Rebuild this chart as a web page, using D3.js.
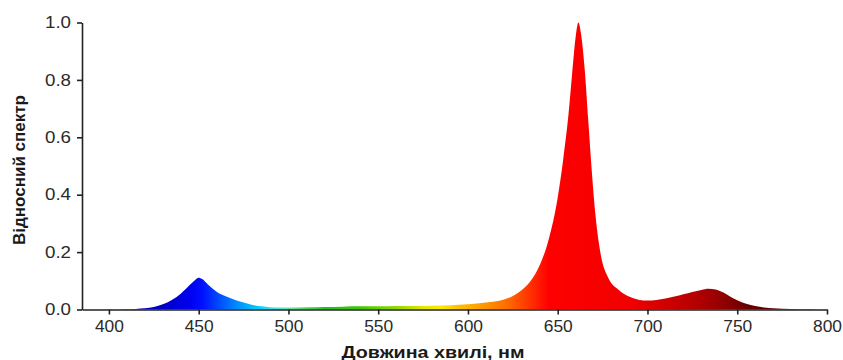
<!DOCTYPE html>
<html>
<head>
<meta charset="utf-8">
<script src="https://cdn.jsdelivr.net/npm/d3@7/dist/d3.min.js"></script>
<style>
  html, body { margin: 0; padding: 0; background: #ffffff; }
  svg { display: block; }
  text { font-family: "Liberation Sans", Arial, sans-serif; }
</style>
</head>
<body>
<svg id="chart" width="843" height="360"></svg>
<script>
// wavelength (nm) and relative spectrum
const wavelengths = [385, 400, 410, 415, 420, 425, 430, 435, 440, 445, 448, 450, 452, 455, 460, 465, 470, 475, 480, 485, 490, 495, 500, 510, 520, 530, 540, 550, 560, 570, 580, 590, 600, 610, 620, 625, 630, 635, 640, 645, 650, 653, 656, 658, 660, 661.5, 663, 665, 667, 669, 671, 674, 678, 684, 690, 695, 700, 705, 710, 715, 720, 725, 730, 734, 738, 742, 746, 750, 755, 760, 765, 770, 780, 790, 800];
const intensity  = [0, 0, 0.001, 0.002, 0.004, 0.009, 0.018, 0.033, 0.055, 0.085, 0.103, 0.111, 0.106, 0.088, 0.062, 0.046, 0.034, 0.024, 0.016, 0.011, 0.008, 0.007, 0.007, 0.008, 0.009, 0.010, 0.011, 0.011, 0.012, 0.012, 0.013, 0.015, 0.018, 0.024, 0.035, 0.047, 0.068, 0.100, 0.155, 0.245, 0.39, 0.52, 0.68, 0.82, 0.95, 1.0, 0.96, 0.84, 0.66, 0.48, 0.33, 0.19, 0.112, 0.068, 0.044, 0.034, 0.031, 0.033, 0.038, 0.045, 0.053, 0.061, 0.068, 0.072, 0.070, 0.060, 0.045, 0.032, 0.020, 0.012, 0.007, 0.004, 0.002, 0.001, 0];

// spectral colour stops
const stopWavelengths = [385, 430, 445, 452, 462, 472, 482, 490, 500, 510, 520, 540, 560, 575, 585, 595, 608, 622, 635, 645, 690, 705, 725, 740, 755, 775, 800];
const stopColors = ["#00009a", "#0000c8", "#0000f0", "#0010ff", "#0050ff", "#0090ff", "#00c8ff", "#30e0f0", "#70e0b0", "#50d050", "#20c020", "#40c800", "#90d800", "#e0e800", "#ffe800", "#ffc000", "#ff9a00", "#ff6a00", "#ff3000", "#ff0000", "#f20000", "#d80000", "#b80000", "#980000", "#6a0000", "#4a0000", "#300000"];

const xTicks = [400, 450, 500, 550, 600, 650, 700, 750, 800];
const yTicks = [0.0, 0.2, 0.4, 0.6, 0.8, 1.0];
const xTitle = "Довжина хвилі, нм";
const yTitle = "Відносний спектр";

const svg = d3.select("#chart");
const x = d3.scaleLinear().domain([385, 800]).range([82, 827]);
const y = d3.scaleLinear().domain([0, 1]).range([309.5, 22.5]);

// gradient
const defs = svg.append("defs");
const grad = defs.append("linearGradient")
  .attr("id", "spec")
  .attr("gradientUnits", "userSpaceOnUse")
  .attr("x1", x(385)).attr("x2", x(800))
  .attr("y1", 0).attr("y2", 0);
stopWavelengths.forEach((w, i) => {
  grad.append("stop")
    .attr("offset", (w - 385) / (800 - 385))
    .attr("stop-color", stopColors[i]);
});

const data = wavelengths.map((w, i) => ({ w, v: intensity[i] }));
const area = d3.area()
  .x(d => x(d.w))
  .y0(y(0))
  .y1(d => y(d.v))
  .curve(d3.curveMonotoneX);

svg.append("path")
  .datum(data)
  .attr("d", area)
  .attr("fill", "url(#spec)");

// axes
const xAxis = d3.axisBottom(x).tickValues(xTicks).tickFormat(d3.format("d")).tickSize(5).tickPadding(6).tickSizeOuter(0);
const yAxis = d3.axisLeft(y).tickValues(yTicks).tickFormat(d3.format(".1f")).tickSize(5).tickPadding(6).tickSizeOuter(0);

const gx = svg.append("g").attr("transform", `translate(0,${y(0)})`).call(xAxis);
const gy = svg.append("g").attr("transform", `translate(${x(385)},0)`).call(yAxis);

[gx, gy].forEach(g => {
  g.select(".domain").attr("stroke", "#222").attr("stroke-width", 1.6);
  g.selectAll(".tick line").attr("stroke", "#222").attr("stroke-width", 1.6);
  g.selectAll(".tick text").attr("fill", "#2a2a2a").style("font-size", "16px")
    .attr("lengthAdjust", "spacingAndGlyphs");
});
gx.selectAll(".tick text").attr("textLength", 29);
gy.selectAll(".tick text").attr("textLength", 26);

// axis titles
svg.append("text")
  .attr("x", 433).attr("y", 358)
  .attr("text-anchor", "middle")
  .style("font-size", "16.5px").style("font-weight", "bold")
  .attr("fill", "#1a1a1a")
  .attr("textLength", 183).attr("lengthAdjust", "spacingAndGlyphs")
  .text(xTitle);

svg.append("text")
  .attr("transform", "translate(25,170) rotate(-90)")
  .attr("text-anchor", "middle")
  .style("font-size", "16.5px").style("font-weight", "bold")
  .attr("fill", "#1a1a1a")
  .attr("textLength", 150).attr("lengthAdjust", "spacingAndGlyphs")
  .text(yTitle);
</script>
</body>
</html>
